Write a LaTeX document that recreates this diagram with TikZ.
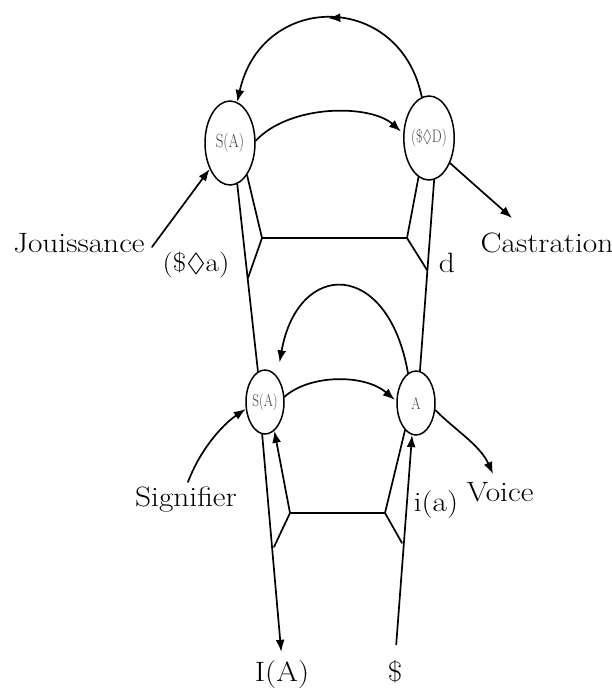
\documentclass[tikz,border=0pt]{standalone}
\usepackage{amssymb}
\usetikzlibrary{shapes.geometric,arrows.meta,decorations.markings}
\newcommand\widelab[1]{\scalebox{1.12}[1]{#1}}
\newcommand\innerlab[2]{\scalebox{0.78}[1]{\fontsize{#1}{#1}\selectfont\color{black!75}#2}}
\begin{document}
\begin{tikzpicture}[x=1pt,y=-1pt,
  ell/.style={draw,ellipse,line width=1.5pt,inner sep=0pt},
  bigell/.style={ell,minimum width=50pt,minimum height=84pt},
  smallell/.style={ell,minimum width=38pt,minimum height=64pt},
  wire/.style={line width=1.7pt,line cap=round,line join=round},
  arr/.style={wire,-{Latex[length=12pt,width=9pt]}},
  midarr/.style={postaction={decorate},decoration={markings,mark=at position 0.5 with {\arrow{Latex[length=12pt,width=9pt]}}}},
  lab/.style={font=\fontsize{28}{32}\selectfont,inner sep=0pt}
]
\useasboundingbox (0,0) rectangle (612,689);

% ellipses
\node[bigell] (tl) at (230,143) {\innerlab{19}{S(A)}};
\node[bigell] (tr) at (429,138) {\innerlab{18}{(\$$\lozenge$D)}};
\node[smallell] (bl) at (265,402) {\innerlab{17}{S(A)}};
\node[smallell] (br) at (416,403) {\innerlab{17}{A}};

% labels
\node[lab] (jou) at (79,243) {\widelab{Jouissance}};
\node[lab] (cas) at (547,243) {\widelab{Castration}};
\node[lab] (sig) at (186,500) {\widelab{Signifier}};
\node[lab] (voi) at (500,492) {\widelab{Voice}};
\node[lab,font=\fontsize{26}{30}\selectfont] (sa) at (196,265) {\widelab{(\$$\lozenge$a)}};
\node[lab] (d) at (447,263) {\widelab{d}};
\node[lab] (ia) at (436,505) {\widelab{i(a)}};
\node[lab] (IA) at (282,675) {\widelab{I(A)}};
\node[lab] (S) at (395,672) {\widelab{\$}};

% junctions and free ends
\coordinate (J1) at (262,238);
\coordinate (J2) at (407,238);
\coordinate (M1) at (248,278);
\coordinate (M2) at (427,270);
\coordinate (J3) at (290,513);
\coordinate (J4) at (385,513);
\coordinate (M3) at (274,547);
\coordinate (M4) at (402,543);
\coordinate (j0) at (152,247);
\coordinate (c0) at (512,218);
\coordinate (s0) at (188,482);
\coordinate (v0) at (493,474);

% upper frame
\draw[wire] (tl.-80) -- (bl.103);
\draw[wire] (tl.-62) -- (J1) -- (M1);
\draw[wire] (J1) -- (J2);
\draw[wire] (tr.-105) -- (J2) -- (M2);
\draw[wire] (tr.-83) -- (br.83);

% lower frame
\draw[arr,shorten >=9pt] (bl.-95) -- (IA.north);
\draw[arr] (J3) -- (bl.-72);
\draw[wire] (J3) -- (M3);
\draw[wire] (J3) -- (J4);
\draw[wire] (J4) -- (br.-112);
\draw[wire] (J4) -- (M4);
\draw[arr,shorten <=16pt] (S.north) -- (br.-97);

% arcs
\draw[arr,midarr] (tr.100) .. controls (400,-9) and (262,-9) .. (tl.80);
\draw[arr,shorten >=3pt] (tl.5) .. controls (290,104) and (370,104) .. (tr.170);
\draw[arr,shorten >=14pt] (br.105) .. controls (388,259) and (298,259) .. (bl.65);
\draw[arr,shorten >=2pt] (bl.15) .. controls (310,374) and (365,374) .. (br.175);

% outer arrows
\draw[arr] (j0) -- (tl.232);
\draw[arr] (tr.-50) .. controls (478,188) .. (c0);
\draw[arr] (s0) .. controls (200,450) and (222,425) .. (bl.200);
\draw[arr] (br.-20) .. controls (455,430) and (480,445) .. (v0);
\end{tikzpicture}
\end{document}
